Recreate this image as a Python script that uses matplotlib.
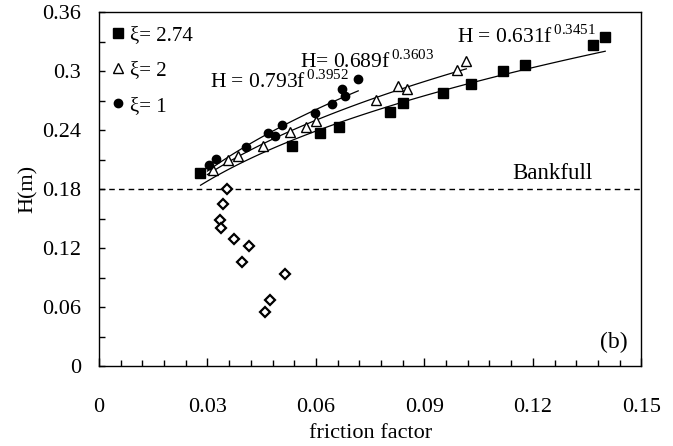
import numpy as np
import matplotlib
matplotlib.use("Agg")
import matplotlib.pyplot as plt
from matplotlib.ticker import MultipleLocator, FuncFormatter

plt.rcParams['font.family'] = ['Liberation Serif', 'DejaVu Serif']
plt.rcParams['mathtext.fontset'] = 'custom'
plt.rcParams['mathtext.rm'] = 'Liberation Serif'

# xi = 2.74 (squares)
f_sq = [0.0280, 0.0534, 0.0612, 0.0664, 0.0805, 0.0840, 0.0952, 0.1030, 0.1118, 0.1179, 0.1367, 0.1400]
h_sq = [0.1963, 0.2238, 0.2370, 0.2436, 0.2584, 0.2675, 0.2777, 0.2869, 0.3001, 0.3062, 0.3265, 0.3347]
# xi = 2 (triangles)
f_tr = [0.0316, 0.0357, 0.0385, 0.0454, 0.0529, 0.0573, 0.0600, 0.0767, 0.0828, 0.0852, 0.0991, 0.1016]
h_tr = [0.1994, 0.2096, 0.2137, 0.2238, 0.2380, 0.2431, 0.2492, 0.2706, 0.2848, 0.2818, 0.3011, 0.3103]
# xi = 1 (circles)
f_ci = [0.0304, 0.0324, 0.0407, 0.0468, 0.0486, 0.0505, 0.0598, 0.0645, 0.0672, 0.0681, 0.0717]
h_ci = [0.2045, 0.2101, 0.2225, 0.2367, 0.2340, 0.2451, 0.2574, 0.2665, 0.2815, 0.2747, 0.2917]
# below bankfull (diamonds)
f_di = [0.0353, 0.0342, 0.0335, 0.0338, 0.0374, 0.0416, 0.0395, 0.0514, 0.0473, 0.0460]
h_di = [0.1798, 0.1648, 0.1485, 0.1407, 0.1289, 0.1224, 0.1061, 0.0939, 0.0668, 0.0546]

# power-law fits H = a f^b, with fitted range
fits = [(0.631, 0.3451, 0.0281, 0.1400),
        (0.689, 0.3603, 0.0300, 0.1016),
        (0.793, 0.3952, 0.0300, 0.0717)]
bankfull = 0.18

fig = plt.figure(figsize=(6.73, 4.46), dpi=100)
ax = fig.add_axes([0.147, 0.179, 0.806, 0.794])

for a, b, f0, f1 in fits:
    ff = np.linspace(f0, f1, 100)
    ax.plot(ff, a * ff ** b, color='black', lw=0.9, zorder=2)

ax.axhline(bankfull, color='black', lw=1.0, ls=(0, (4, 3)), zorder=1)

ax.plot(f_sq, h_sq, 's', color='black', ms=6.5, ls='none', label='ξ= 2.74', zorder=3)
ax.plot(f_tr, h_tr, '^', mfc='white', mec='black', mew=1.0, ms=7.5, ls='none', label='ξ= 2', zorder=3)
ax.plot(f_ci, h_ci, 'o', color='black', ms=6, ls='none', label='ξ= 1', zorder=3)
ax.plot(f_di, h_di, 'D', mfc='white', mec='black', mew=1.6, ms=5, ls='none', zorder=3)

ax.legend(loc='upper left', frameon=False, fontsize=15, handletextpad=0.1,
          labelspacing=0.75, handlelength=1.0, borderaxespad=0.0,
          bbox_to_anchor=(0.0, 0.985))

ax.text(0.0307, 0.289, r'H = 0.793f$^{\mathrm{\,0.3952}}$', fontsize=15.5, va='center', ha='left')
ax.text(0.0556, 0.310, r'H= 0.689f$^{\mathrm{\,0.3603}}$', fontsize=15.5, va='center', ha='left')
ax.text(0.0990, 0.335, r'H = 0.631f$^{\mathrm{\,0.3451}}$', fontsize=15.5, va='center', ha='left')
ax.text(0.1255, 0.1963, 'Bankfull', fontsize=16.5, va='center', ha='center')
ax.text(0.1423, 0.0244, '(b)', fontsize=17, va='center', ha='center')

ax.set_xlim(0, 0.15)
ax.set_ylim(0, 0.36)
ax.xaxis.set_major_locator(MultipleLocator(0.03))
ax.xaxis.set_minor_locator(MultipleLocator(0.006))
ax.yaxis.set_major_locator(MultipleLocator(0.06))
ax.yaxis.set_minor_locator(MultipleLocator(0.03))
fmt = FuncFormatter(lambda v, p: '0' if abs(v) < 1e-9 else ('%.2f' % v).rstrip('0'))
ax.xaxis.set_major_formatter(fmt)
ax.yaxis.set_major_formatter(fmt)
ax.tick_params(which='both', direction='in', labelsize=16, width=1.0)
ax.tick_params(which='minor', length=4)
ax.tick_params(axis='x', which='major', length=6, pad=23)
ax.tick_params(axis='y', which='major', length=4, pad=13)
for s in ax.spines.values():
    s.set_linewidth(1.0)

ax.set_xlabel('friction factor', fontsize=16, labelpad=5)
ax.set_ylabel('H(m)', fontsize=16, labelpad=3)

fig.savefig('out.png', dpi=100)
